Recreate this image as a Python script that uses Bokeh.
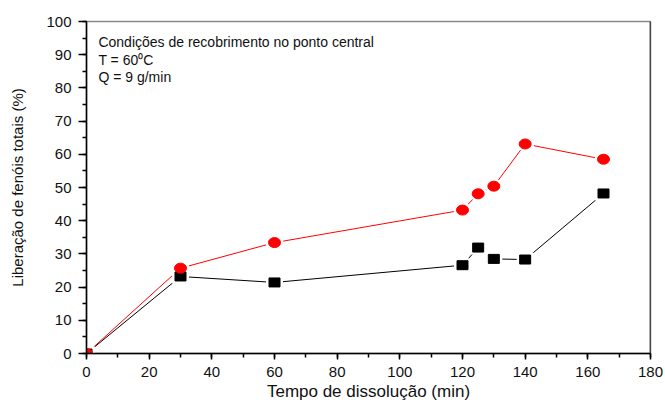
from bokeh.plotting import figure
from bokeh.models import (SingleIntervalTicker, Range1d, Label, Span, ColumnDataSource)
from bokeh.embed import file_html
from bokeh.resources import INLINE

# Data
tempo = [0, 30, 60, 120, 125, 130, 140, 165]
fenois_red = [0, 25.7, 33.4, 43.2, 48.1, 50.4, 63.1, 58.5]
fenois_black = [0, 23.2, 21.4, 26.6, 31.9, 28.5, 28.3, 48.2]

x_label = "Tempo de dissolução (min)"
y_label = "Liberação de fenóis totais (%)"
notes = ["Condições de recobrimento no ponto central", "T = 60\u2070C", "Q = 9 g/min"]

FONT = "Liberation Sans"

p = figure(width=665, height=403, output_backend="svg", toolbar_location=None,
           x_range=Range1d(0, 180), y_range=Range1d(0, 100),
           min_border_left=86, min_border_right=15, min_border_top=21, min_border_bottom=50)
p.background_fill_color = "white"
p.border_fill_color = "white"
p.outline_line_color = "#888888"
p.outline_line_width = 1.5
p.xgrid.visible = False
p.ygrid.visible = False

src_r = ColumnDataSource(dict(x=tempo, y=fenois_red))
src_b = ColumnDataSource(dict(x=tempo, y=fenois_black))

# lines
p.line("x", "y", source=src_b, line_color="black", line_width=1)
p.line("x", "y", source=src_r, line_color="#ff0000", line_width=1)

# white halos to create gaps (Origin style)
p.rect("x", "y", width=17, height=14, width_units="screen", height_units="screen",
       source=src_b, fill_color="white", line_color=None)
p.ellipse("x", "y", width=18, height=15, width_units="screen", height_units="screen",
          source=src_r, fill_color="white", line_color=None)
# markers
p.rect("x", "y", width=11, height=9, width_units="screen", height_units="screen",
       source=src_b, fill_color="black", line_color="black")
p.ellipse("x", "y", width=12, height=10, width_units="screen", height_units="screen",
          source=src_r, fill_color="#ff0000", line_color="#ff0000")

# right frame edge in black
p.add_layout(Span(location=180, dimension="height", line_color="black", line_width=1.5))

# axes
xa = p.xaxis[0]
xa.ticker = SingleIntervalTicker(interval=20, num_minor_ticks=2)
ya = p.yaxis[0]
ya.ticker = SingleIntervalTicker(interval=10, num_minor_ticks=2)
for ax in (xa, ya):
    ax.axis_line_color = "black"
    ax.axis_line_width = 1.5
    ax.major_tick_line_color = "black"
    ax.minor_tick_line_color = "black"
    ax.major_tick_line_width = 1.5
    ax.minor_tick_line_width = 1.5
    ax.major_tick_in = 0
    ax.minor_tick_in = 0
    ax.major_label_text_font = FONT
    ax.major_label_text_font_size = "15px"
    ax.major_label_text_color = "#111111"
    ax.axis_label_text_font = FONT
    ax.axis_label_text_font_style = "normal"
    ax.axis_label_text_color = "#111111"

xa.major_tick_out = 6
xa.minor_tick_out = 4
xa.major_label_standoff = 7
xa.axis_label = x_label
xa.axis_label_text_font_size = "17px"
xa.axis_label_standoff = 2

ya.major_tick_out = 8
ya.minor_tick_out = 4
ya.major_label_standoff = 7
ya.axis_label = y_label
ya.axis_label_text_font_size = "15px"
ya.axis_label_standoff = 17

# annotation text
for txt, yy in zip(notes, [93.9, 88.5, 83.3]):
    p.add_layout(Label(x=3.8, y=yy, text=txt, text_font=FONT, text_font_size="14px",
                       text_baseline="middle", text_color="#111111"))

open("out.html", "w").write(file_html(p, INLINE))
